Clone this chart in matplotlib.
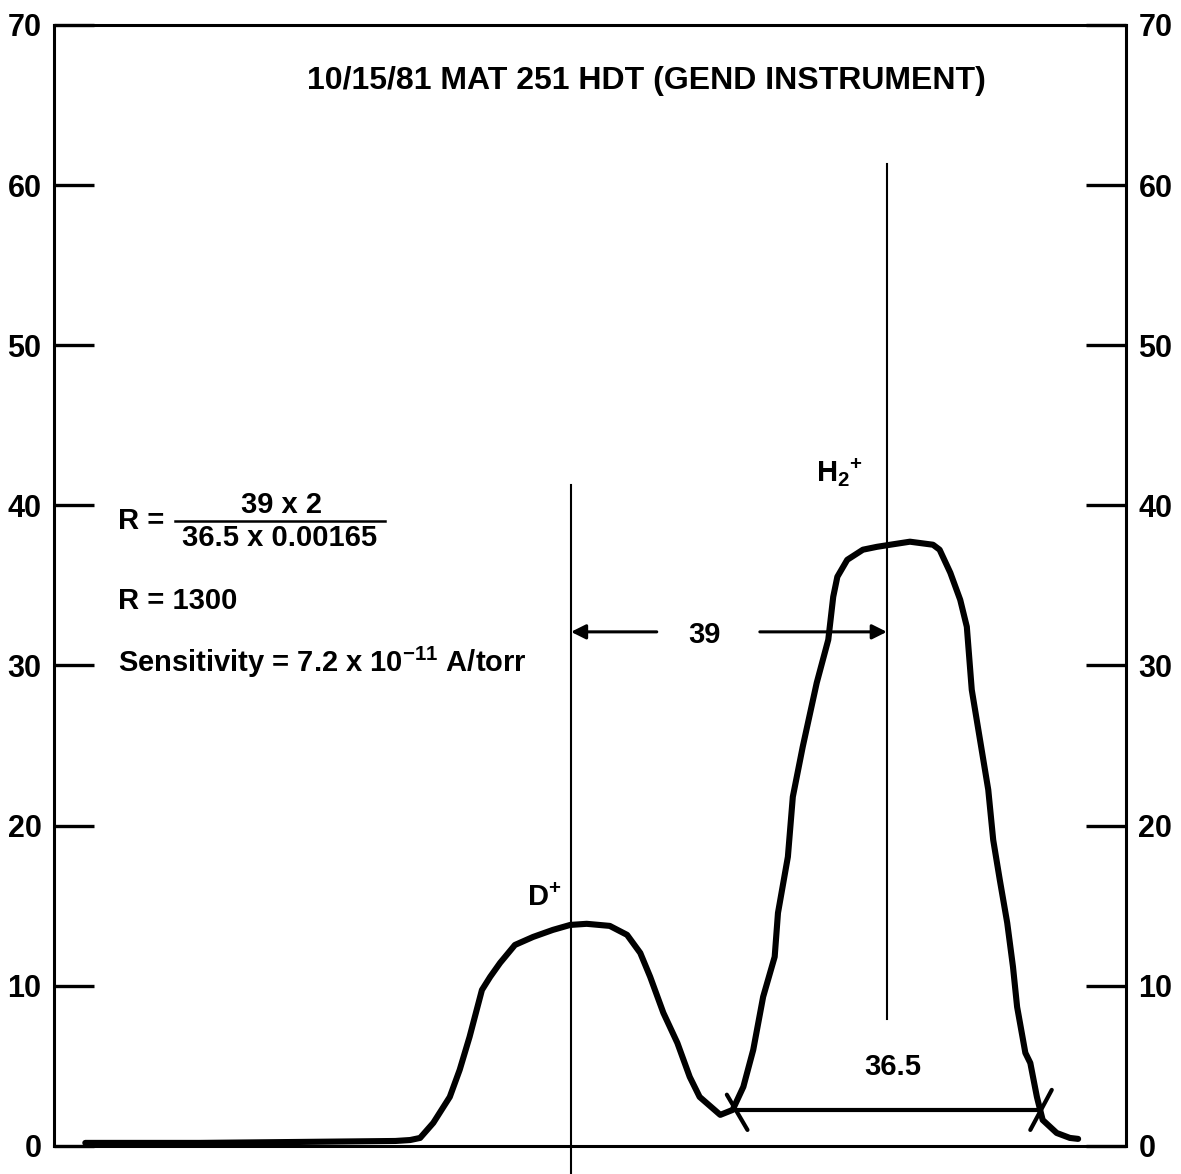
import matplotlib
matplotlib.use("Agg")
import matplotlib.pyplot as plt

plt.rcParams['font.family'] = ['Liberation Sans', 'DejaVu Sans']
plt.rcParams['mathtext.default'] = 'regular'

# Trace of the spectrum (arbitrary chart units along x, signal along y)
scan_x = [3.8, 17.7, 29.8, 41.4, 43.2, 44.4, 46.0, 48.0, 49.2, 50.4, 51.9, 52.9,
          54.1, 55.9, 58.1, 60.5, 62.6, 64.6, 67.4, 69.5, 71.1, 72.3, 73.9, 75.6,
          77.1, 78.3, 80.8, 82.3, 83.6, 84.8, 86.0, 87.4, 87.8, 89.0, 89.6, 90.8,
          92.5, 93.9, 94.5, 95.0, 96.2, 98.1, 99.8, 101.4, 103.8, 106.6, 107.4,
          108.7, 109.9, 110.7, 111.3, 112.3, 113.3, 113.9, 114.7, 115.6, 116.3,
          116.8, 117.8, 118.4, 119.2, 119.9, 121.6, 123.2, 124.2]
scan_y = [0.19, 0.19, 0.25, 0.31, 0.37, 0.50, 1.44, 3.06, 4.75, 6.81, 9.74, 10.56,
          11.43, 12.55, 13.05, 13.49, 13.80, 13.87, 13.74, 13.18, 12.05, 10.56, 8.31, 6.43,
          4.31, 3.06, 1.94, 2.25, 3.69, 6.00, 9.31, 11.81, 14.55, 18.05, 21.80, 24.92,
          28.92, 31.61, 34.29, 35.54, 36.60, 37.23, 37.41, 37.54, 37.73, 37.54, 37.23,
          35.79, 34.10, 32.42, 28.48, 25.36, 22.24, 19.11, 16.61, 13.93, 11.18,
          8.68, 5.81, 5.18, 3.06, 1.62, 0.81, 0.50, 0.44]

y_ticks = [0, 10, 20, 30, 40, 50, 60, 70]
y_tick_labels = ['0', '10', '20', '30', '40', '50', '60', '70']

peak_names = ['D$^{+}$', 'H$_{2}$$^{+}$']
peak_centers = [62.7, 101.0]
peak_line_top = [41.3, 61.3]
peak_line_bottom = [-1.75, 7.9]

spacing_label = '39'
width_label = '36.5'
width_level = 2.25
width_ends = [82.8, 119.6]

title = '10/15/81 MAT 251 HDT (GEND INSTRUMENT)'

FS = 21

fig = plt.figure(figsize=(11.81, 11.74), dpi=100)
ax = fig.add_axes([0.0457, 0.0239, 0.9077, 0.9549])
ax.set_xlim(0, 130)
ax.set_ylim(0, 70)

for s in ax.spines.values():
    s.set_linewidth(2.2)
ax.set_xticks([])
ax.set_yticks(y_ticks)
ax.set_yticklabels(y_tick_labels)
ax.tick_params(axis='y', which='both', direction='in', length=29, width=2.4,
               left=True, right=True, labelleft=True, labelright=True,
               labelsize=22, pad=9)
for lab in ax.get_yticklabels():
    lab.set_fontweight('bold')

# spectrum trace
ax.plot(scan_x, scan_y, color='black', lw=4.4, solid_capstyle='round',
        solid_joinstyle='round')

# peak center lines
for xc, yt, yb in zip(peak_centers, peak_line_top, peak_line_bottom):
    ax.plot([xc, xc], [yb, yt], color='black', lw=1.5, clip_on=False)

# peak labels
ax.text(59.4, 15.5, peak_names[0], fontsize=FS, fontweight='bold',
        ha='center', va='center')
ax.text(95.2, 42.0, peak_names[1], fontsize=FS, fontweight='bold',
        ha='center', va='center')

# spacing arrows between peaks
arrow_y = 32.1
ax.annotate('', xy=(peak_centers[0], arrow_y), xytext=(73.1, arrow_y),
            arrowprops=dict(arrowstyle='-|>', color='black', lw=2.2,
                            mutation_scale=22, shrinkA=0, shrinkB=0))
ax.annotate('', xy=(peak_centers[1], arrow_y), xytext=(85.6, arrow_y),
            arrowprops=dict(arrowstyle='-|>', color='black', lw=2.2,
                            mutation_scale=22, shrinkA=0, shrinkB=0))
ax.text(78.9, 31.9, spacing_label, fontsize=FS, fontweight='bold',
        ha='center', va='center')

# width measurement
ax.plot(width_ends, [width_level, width_level], color='black', lw=3.0)
ax.plot([81.6, 84.1], [3.2, 1.0], color='black', lw=3.0, solid_capstyle='round')
ax.plot([121.0, 118.4], [3.5, 1.0], color='black', lw=3.0, solid_capstyle='round')
ax.text(101.7, 4.9, width_label, fontsize=FS, fontweight='bold',
        ha='center', va='center')

# title
ax.text(71.9, 66.5, title, fontsize=23, fontweight='bold', ha='center', va='center')

# resolution text block
ax.text(7.8, 39.0, 'R =', fontsize=FS, fontweight='bold', ha='left', va='center')
ax.plot([14.7, 40.1], [39.05, 39.05], color='black', lw=1.8)
ax.text(27.6, 40.0, '39 x 2', fontsize=FS, fontweight='bold', ha='center', va='center')
ax.text(27.4, 37.95, '36.5 x 0.00165', fontsize=FS, fontweight='bold',
        ha='center', va='center')
ax.text(7.8, 34.0, 'R = 1300', fontsize=FS, fontweight='bold', ha='left', va='center')
ax.text(7.8, 30.2, 'Sensitivity = 7.2 x 10$^{-11}$ A/torr', fontsize=FS,
        fontweight='bold', ha='left', va='center')

fig.savefig('out.png', dpi=100)
